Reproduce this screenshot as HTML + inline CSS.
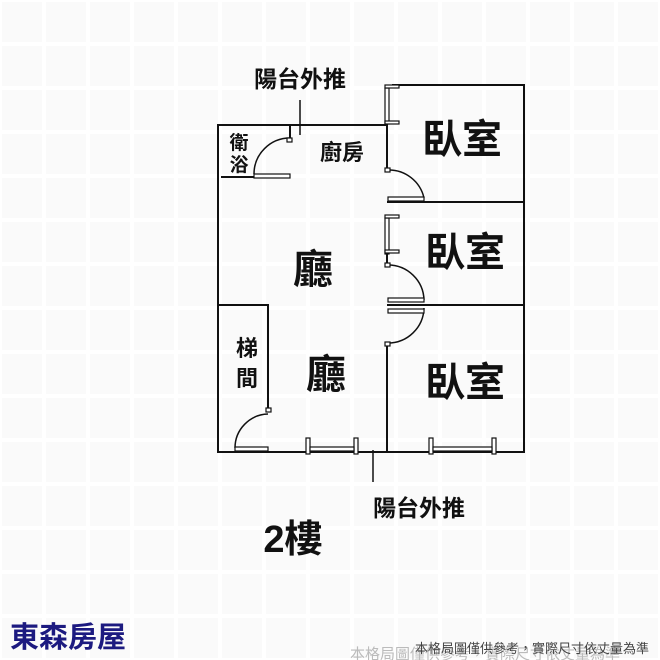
<!DOCTYPE html>
<html><head><meta charset="utf-8"><style>
body{margin:0;background:#fff;width:660px;height:660px;overflow:hidden}
svg{display:block}
text{font-family:"Liberation Sans","Noto Sans CJK TC",sans-serif}
</style></head><body>
<svg width="660" height="660" viewBox="0 0 660 660">
<defs><pattern id="g" width="44" height="44" patternUnits="userSpaceOnUse"><rect width="44" height="44" fill="#fff"/><rect x="2" y="2" width="40" height="40" fill="#fafafa"/></pattern></defs>
<rect width="660" height="660" fill="url(#g)"/>
<g stroke="#111" stroke-width="2" fill="none">
<polyline points="387,125 218,125 218,452 524,452 524,85 392,85"/>
<line x1="387" y1="85" x2="387" y2="170"/>
<line x1="387" y1="202" x2="524" y2="202"/>
<line x1="387" y1="218" x2="387" y2="265"/>
<line x1="387" y1="305" x2="524" y2="305"/>
<line x1="387" y1="343" x2="387" y2="452"/>
<line x1="221" y1="177" x2="290" y2="177"/>
<line x1="290" y1="125" x2="290" y2="142"/>
<line x1="300" y1="100" x2="300" y2="135" stroke-width="1.5"/>
<polyline points="218,305 268,305 268,410"/>
<line x1="373" y1="450" x2="373" y2="482" stroke-width="1.5"/>
</g>
<g stroke="#111" stroke-width="1.5" fill="none">
<path d="M254,174 A36,36 0 0 1 290,138"/>
<path d="M388,170 A36,36 0 0 1 424,198"/>
<path d="M388,265 A36,36 0 0 1 424,300"/>
<path d="M388,343 A36,36 0 0 0 424,308"/>
<path d="M235,448 A34,34 0 0 1 268,414"/>
</g>
<g fill="#fff" stroke="#111" stroke-width="1.2">
<rect x="254" y="174" width="36" height="4"/><rect x="287" y="138" width="5" height="4"/>
<rect x="388" y="197" width="36" height="4"/><rect x="385" y="168" width="5" height="4"/>
<rect x="388" y="298" width="36" height="4"/><rect x="385" y="263" width="5" height="4"/>
<rect x="388" y="309" width="36" height="4"/><rect x="385" y="342" width="5" height="4"/>
<rect x="235" y="447" width="33" height="4"/><rect x="266" y="408" width="5" height="4"/>
<rect x="385" y="88" width="4" height="36"/><rect x="385" y="85" width="14" height="3"/><rect x="385" y="121" width="14" height="3"/>
<rect x="385" y="218" width="4" height="36"/><rect x="385" y="215" width="14" height="3"/><rect x="385" y="250" width="14" height="3"/>
<rect x="306" y="438" width="4" height="16"/><rect x="354" y="438" width="4" height="16"/><rect x="310" y="447" width="44" height="4"/>
<rect x="429" y="438" width="4" height="16"/><rect x="492" y="438" width="4" height="16"/><rect x="433" y="447" width="59" height="4"/>
</g>
<g fill="#111" text-anchor="middle" font-weight="bold">
<text x="300" y="87" font-size="23">陽台外推</text>
<text x="419" y="516" font-size="23">陽台外推</text>
<text x="239" y="149" font-size="19">衛</text>
<text x="239" y="171" font-size="19">浴</text>
<text x="342" y="160" font-size="22">廚房</text>
<text x="462" y="153" font-size="40">臥室</text>
<text x="465" y="266" font-size="40">臥室</text>
<text x="465" y="396" font-size="40">臥室</text>
<text x="313" y="283" font-size="40">廳</text>
<text x="326" y="388" font-size="40">廳</text>
<text x="247" y="356" font-size="22">梯</text>
<text x="247" y="386" font-size="22">間</text>
<text x="293" y="552" font-size="38">2樓</text>
</g>
<text x="10" y="647" font-size="29" fill="#1c1a80" font-weight="bold">東森房屋</text>
<text x="350" y="659" font-size="15" fill="#bbb">本格局圖僅供參考，實際尺寸依丈量為準</text>
<text x="415" y="653" font-size="13" fill="#444">本格局圖僅供參考，實際尺寸依丈量為準</text>
</svg>
</body></html>
